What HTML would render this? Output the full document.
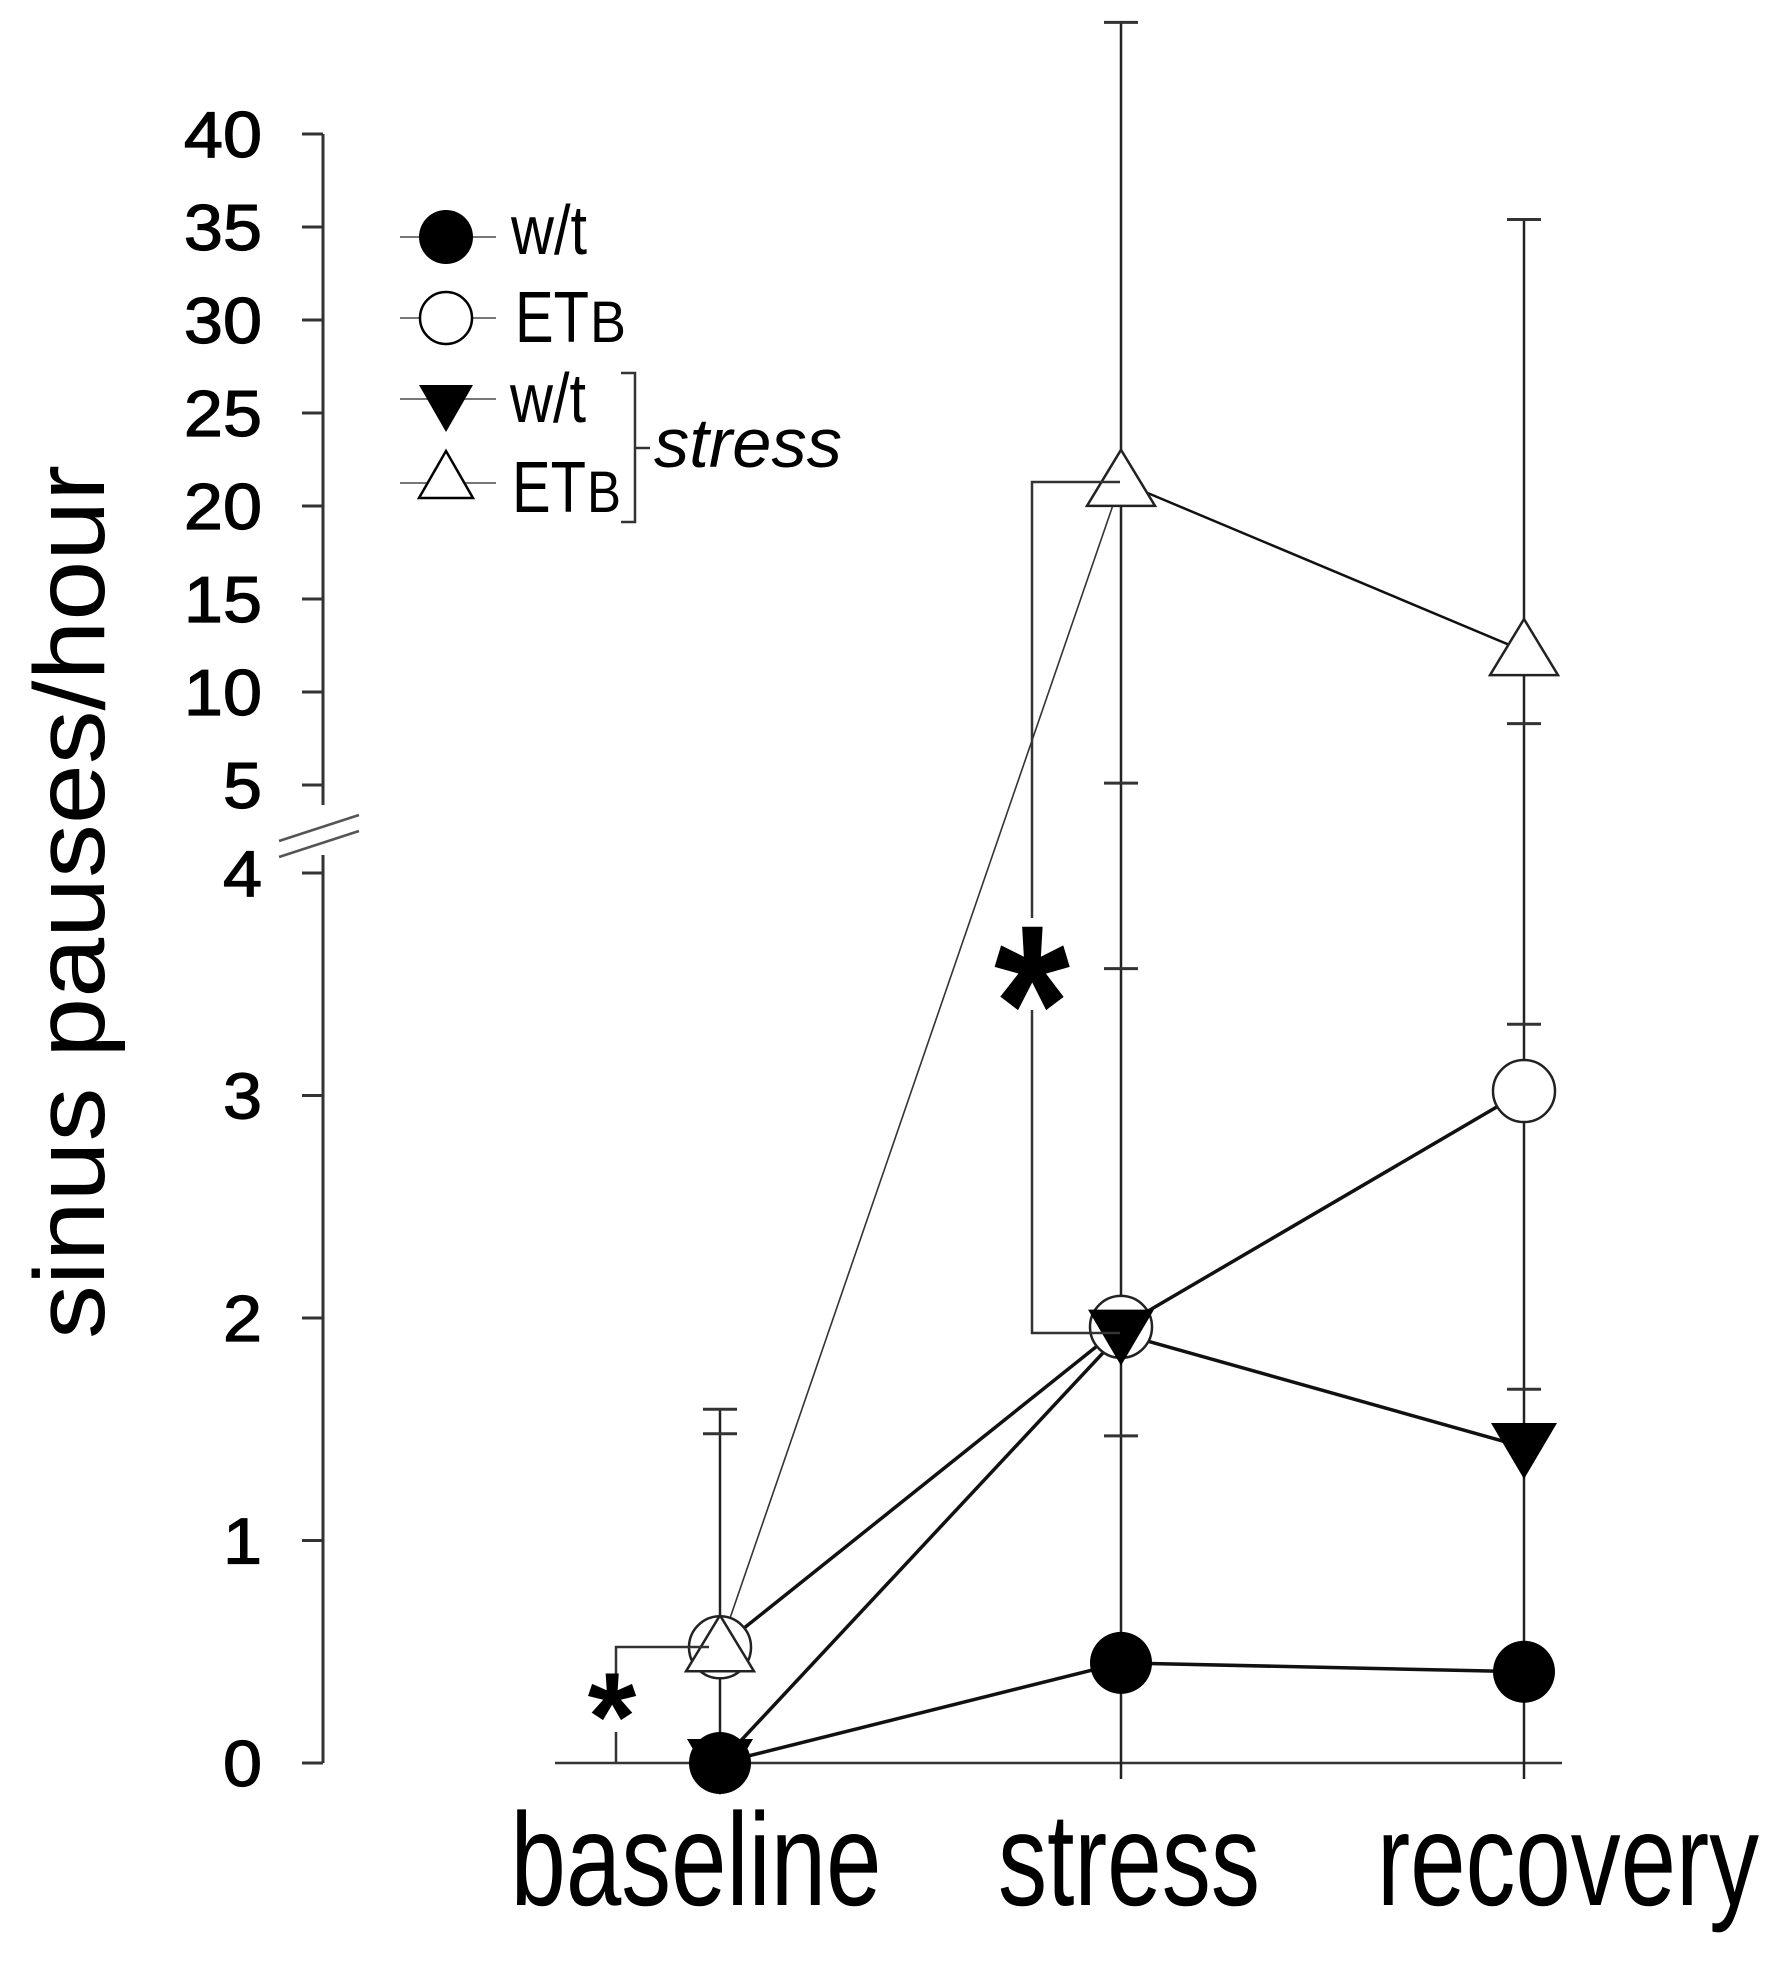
<!DOCTYPE html>
<html><head><meta charset="utf-8">
<style>
html,body{margin:0;padding:0;background:#fff;}
svg{display:block;font-family:"Liberation Sans",Arial,sans-serif;}
</style></head>
<body>
<svg id="chart" width="1779" height="1963" viewBox="0 0 1779 1963" xmlns="http://www.w3.org/2000/svg">
<rect width="1779" height="1963" fill="#fff"/>
<g id="axes"></g>
<g id="marks"></g>
<g id="legend">
  <g>
    <line x1="400" y1="237" x2="496" y2="237" stroke="#777" stroke-width="2"/>
    <circle cx="446" cy="237" r="27" fill="#000"/>
    <text x="511" y="254" font-size="70" textLength="76" lengthAdjust="spacingAndGlyphs">w/t</text>
  </g>
  <g>
    <line x1="400" y1="318" x2="496" y2="318" stroke="#777" stroke-width="2"/>
    <circle cx="446" cy="318" r="26" fill="#fff" stroke="#000" stroke-width="2.5"/>
    <text x="515" y="342" font-size="72" textLength="74" lengthAdjust="spacingAndGlyphs">ET</text>
    <text x="590" y="342" font-size="58" textLength="36" lengthAdjust="spacingAndGlyphs">B</text>
  </g>
  <g>
    <line x1="400" y1="399" x2="496" y2="399" stroke="#777" stroke-width="2"/>
    <polygon points="419,385 473,385 446,432" fill="#000"/>
    <text x="510" y="422" font-size="70" textLength="76" lengthAdjust="spacingAndGlyphs">w/t</text>
  </g>
  <g>
    <line x1="400" y1="483" x2="496" y2="483" stroke="#777" stroke-width="2"/>
    <polygon points="446,451 473,498 419,498" fill="#fff" stroke="#000" stroke-width="2.5"/>
    <text x="512" y="512" font-size="72" textLength="74" lengthAdjust="spacingAndGlyphs">ET</text>
    <text x="587" y="512" font-size="58" textLength="34" lengthAdjust="spacingAndGlyphs">B</text>
  </g>
  <path d="M621,373 H635 V522 H621 M635,448 H650" fill="none" stroke="#333" stroke-width="2.5"/>
  <text x="654" y="467" font-size="70" font-style="italic" textLength="188" lengthAdjust="spacingAndGlyphs">stress</text>
</g>
<text transform="translate(104,902) rotate(-90)" text-anchor="middle" font-size="100" textLength="874" lengthAdjust="spacingAndGlyphs">sinus pauses/hour</text>
<g>
  <path d="M1120,482 H1032 V918 M1032,1010 V1333 H1120" fill="none" stroke="#333" stroke-width="2.5"/>
  <text x="1032" y="1080" text-anchor="middle" font-size="195" font-weight="bold" transform="translate(1032,0) scale(1,1.15) translate(-1032,0)" dy="-140">*</text>
  <path d="M709,1647 H616 V1676 M616,1732 V1763" fill="none" stroke="#333" stroke-width="2.5"/>
  <text x="612" y="1760" text-anchor="middle" font-size="125" font-weight="bold">*</text>
</g>
<script>
const categories = ["baseline", "stress", "recovery"];
const wtValues = [0, 0.45, 0.41];
const etbValues = [0.52, 1.96, 3.02];
const wtStressValues = [0, 1.93, 1.42];
const etbStressValues = [0.52, 21.3, 12.2];
const errorBarTops = [[1.59, 1.48], [46, 5.1, 3.57, 1.47], [35.4, 8.3, 3.32, 1.68]];
const lowerTicks = [0, 1, 2, 3, 4];
const upperTicks = [5, 10, 15, 20, 25, 30, 35, 40];

const NS = "http://www.w3.org/2000/svg";
const catX = [720, 1121, 1524];
function xScale(i) { return catX[i]; }
function yScale(v) {
  if (v <= 4) return 1763 - v * 222.5;
  if (v < 5) return 873 - (v - 4) * 88;
  return 785 - (v - 5) * 18.6;
}
function mk(tag, attrs, parent) {
  const e = document.createElementNS(NS, tag);
  for (const k in attrs) e.setAttribute(k, attrs[k]);
  parent.appendChild(e);
  return e;
}
const axes = document.getElementById("axes");
const marks = document.getElementById("marks");

let yl = mk("line", {x1: 323, y1: yScale(40), x2: 323, y2: 805, stroke: "#333", "stroke-width": 3}, axes);


let yl2 = mk("line", {x1: 323, y1: 855, x2: 323, y2: yScale(0), stroke: "#333", "stroke-width": 3}, axes);


let brk = mk("path", {d: "M279,841 L359,815 M279,857 L359,831", stroke: "#555", "stroke-width": 2.5, fill: "none"}, axes);


lowerTicks.concat(upperTicks).forEach(function (t) {
  const y = yScale(t);
  const tk = mk("line", {x1: 302, y1: y, x2: 323, y2: y, stroke: "#333", "stroke-width": 3}, axes);
  
  
  const tx = mk("text", {transform: "translate(262," + (y + 23) + ") scale(1.08,1)", "text-anchor": "end", "font-size": 65, stroke: "#000", "stroke-width": 1.2}, axes);
  tx.textContent = String(t);
  
  
});
let xl = mk("line", {x1: 555, y1: yScale(0), x2: 1562, y2: yScale(0), stroke: "#333", "stroke-width": 2.5}, axes);


const labelCx = [696, 1129, 1568];
const labelW = [371, 262, 382];
categories.forEach(function (c, i) {
  const tx = mk("text", {x: labelCx[i] - labelW[i] / 2, y: 1905, "font-size": 132, textLength: labelW[i], lengthAdjust: "spacingAndGlyphs"}, axes);
  tx.textContent = c;
  
  
});

errorBarTops.forEach(function (arr, i) {
  const x = xScale(i);
  const top = Math.min.apply(null, arr.map(yScale));
  const ln = mk("line", {x1: x, y1: top, x2: x, y2: 1779, stroke: "#222", "stroke-width": 2.5}, marks);
  
  
  arr.forEach(function (v) {
    const cp = mk("line", {x1: x - 17, y1: yScale(v), x2: x + 17, y2: yScale(v), stroke: "#333", "stroke-width": 3}, marks);
    
    
  });
});

function seriesLine(vals, w, name) {
  const pts = vals.map(function (v, i) { return xScale(i) + "," + yScale(v); }).join(" ");
  const pl = mk("polyline", {points: pts, fill: "none", stroke: "#111", "stroke-width": w}, marks);
  
  
}
(function () {
  const a = mk("line", {x1: xScale(0), y1: yScale(etbStressValues[0]), x2: xScale(1), y2: yScale(etbStressValues[1]), stroke: "#333", "stroke-width": 1.6}, marks);
  
  
  const b = mk("line", {x1: xScale(1), y1: yScale(etbStressValues[1]), x2: xScale(2), y2: yScale(etbStressValues[2]), stroke: "#111", "stroke-width": 2.5}, marks);
  
  
})();
seriesLine(wtValues, 3.5, 'wt-line');
seriesLine(etbValues, 3.5, 'etb-line');
seriesLine(wtStressValues, 3.5, 'wt-stress-line');

etbValues.forEach(function (v, i) {
  const c = mk("circle", {cx: xScale(i), cy: yScale(v), r: 31, fill: "#fff", stroke: "#222", "stroke-width": 2.5}, marks);
  
  
});
wtValues.forEach(function (v, i) {
  const c = mk("circle", {cx: xScale(i), cy: yScale(v), r: 31, fill: "#000"}, marks);
  
  
});
wtStressValues.forEach(function (v, i) {
  const x = xScale(i), y = yScale(v);
  const p = mk("polygon", {points: (x - 33) + "," + (y - 24) + " " + (x + 33) + "," + (y - 24) + " " + x + "," + (y + 32), fill: "#000"}, marks);
  
  
});
etbStressValues.forEach(function (v, i) {
  const x = xScale(i), y = yScale(v);
  const p = mk("polygon", {points: x + "," + (y - 32) + " " + (x + 34) + "," + (y + 24) + " " + (x - 34) + "," + (y + 24), fill: "#fff", stroke: "#222", "stroke-width": 2.5}, marks);
  
  
});
</script>
</svg>
</body></html>
